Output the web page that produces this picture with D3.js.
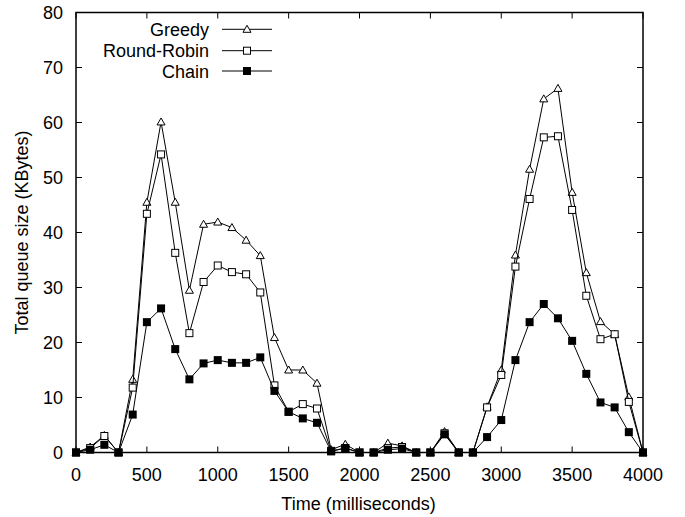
<!DOCTYPE html>
<html>
<head>
<meta charset="utf-8">
<script src="https://cdn.jsdelivr.net/npm/d3@7"></script>
<style>
  body { margin: 0; background: #fff; }
  text { font-family: "Liberation Sans", Arial, sans-serif; font-size: 18px; fill: #000; }
</style>
</head>
<body>
<div id="chart"></div>
<script>
// time axis (ms), one sample every 100 ms
const times = [0, 100, 200, 300, 400, 500, 600, 700, 800, 900,
  1000, 1100, 1200, 1300, 1400, 1500, 1600, 1700, 1800, 1900,
  2000, 2100, 2200, 2300, 2400, 2500, 2600, 2700, 2800, 2900,
  3000, 3100, 3200, 3300, 3400, 3500, 3600, 3700, 3800, 3900, 4000]

// queue sizes in KBytes
const greedy = [0, 1.0, 3.1, 0, 13.3, 45.5, 60.1, 45.5, 29.5, 41.5,
  41.9, 40.9, 38.6, 35.8, 20.9, 15.0, 15.0, 12.6, 0.5, 1.5,
  0, 0, 1.7, 1.2, 0, 0, 3.8, 0, 0, 8.3,
  15.0, 35.9, 51.5, 64.3, 66.2, 47.3, 32.7, 23.8, 21.5, 10.1, 0]

const roundRobin = [0, 0.8, 3.0, 0, 11.8, 43.4, 54.2, 36.3, 21.7, 31.0,
  34.0, 32.8, 32.4, 29.1, 12.2, 7.4, 8.8, 8.0, 0.3, 0.8,
  0, 0, 0.8, 1.0, 0, 0, 3.5, 0, 0, 8.2,
  14.1, 33.8, 46.1, 57.3, 57.5, 44.1, 28.5, 20.6, 21.5, 9.2, 0]

const chain = [0, 0.5, 1.4, 0, 6.9, 23.7, 26.2, 18.8, 13.3, 16.2,
  16.8, 16.3, 16.3, 17.3, 11.2, 7.4, 6.2, 5.4, 0.2, 0.8,
  0, 0, 0.5, 0.7, 0, 0, 3.3, 0, 0, 2.8,
  5.9, 16.8, 23.7, 27.0, 24.4, 20.3, 14.3, 9.1, 8.2, 3.7, 0]

const seriesNames = ["Greedy", "Round-Robin", "Chain"]
const seriesMarks = ["triangle", "openSquare", "filledSquare"]
const xTicks = [0, 500, 1000, 1500, 2000, 2500, 3000, 3500, 4000]
const yTicks = [0, 10, 20, 30, 40, 50, 60, 70, 80]

const W = 685, H = 517
const plot = { left: 76, right: 643, top: 12.5, bottom: 452.5 }

const svg = d3.select("#chart").append("svg")
  .attr("width", W).attr("height", H)

const x = d3.scaleLinear().domain([0, 4000]).range([plot.left, plot.right])
const y = d3.scaleLinear().domain([0, 80]).range([plot.bottom, plot.top])

//ticks inside the frame, mirrored on top and right (gnuplot style)
const tickLen = 6
const ticksG = svg.append("g").attr("stroke", "#000").attr("stroke-width", 1)
xTicks.forEach(t => {
  ticksG.append("line").attr("x1", x(t)).attr("x2", x(t))
    .attr("y1", plot.bottom).attr("y2", plot.bottom - tickLen)
  ticksG.append("line").attr("x1", x(t)).attr("x2", x(t))
    .attr("y1", plot.top).attr("y2", plot.top + tickLen)
})
yTicks.forEach(t => {
  ticksG.append("line").attr("x1", plot.left).attr("x2", plot.left + tickLen)
    .attr("y1", y(t)).attr("y2", y(t))
  ticksG.append("line").attr("x1", plot.right).attr("x2", plot.right - tickLen)
    .attr("y1", y(t)).attr("y2", y(t))
})

//tick labels
svg.append("g").selectAll("text").data(xTicks).join("text")
  .attr("x", d => x(d)).attr("y", 481)
  .attr("text-anchor", "middle")
  .text(d => d)
svg.append("g").selectAll("text").data(yTicks).join("text")
  .attr("x", 63).attr("y", d => y(d) + 6.5)
  .attr("text-anchor", "end")
  .text(d => d)

//axis titles
svg.append("text").attr("x", (plot.left + plot.right) / 2 - 1).attr("y", 510)
  .attr("text-anchor", "middle").text("Time (milliseconds)")
svg.append("text")
  .attr("transform", "translate(28," + ((plot.top + plot.bottom) / 2) + ") rotate(-90)")
  .attr("text-anchor", "middle").text("Total queue size (KBytes)")

//markers
function drawMark(g, kind, cx, cy) {
  if (kind === "triangle") {
    const s = 4
    g.append("path")
      .attr("d", "M" + cx + "," + (cy - s) + "L" + (cx + s) + "," + (cy + s * 0.75) + "L" + (cx - s) + "," + (cy + s * 0.75) + "Z")
      .attr("fill", "#fff").attr("stroke", "#000").attr("stroke-width", 1)
  } else if (kind === "openSquare") {
    g.append("rect").attr("x", cx - 3.5).attr("y", cy - 3.5)
      .attr("width", 7).attr("height", 7)
      .attr("fill", "#fff").attr("stroke", "#000").attr("stroke-width", 1)
  } else {
    g.append("rect").attr("x", cx - 4).attr("y", cy - 4)
      .attr("width", 8).attr("height", 8)
      .attr("fill", "#000")
  }
}

const line = d3.line().x(d => x(d[0])).y(d => y(d[1]))
const allSeries = [greedy, roundRobin, chain]

allSeries.forEach((vals, i) => {
  const pts = times.map((t, j) => [t, vals[j]])
  const g = svg.append("g")
  g.append("path").datum(pts).attr("d", line)
    .attr("fill", "none").attr("stroke", "#000").attr("stroke-width", 1)
  pts.forEach(p => drawMark(g, seriesMarks[i], x(p[0]), y(p[1])))
})

//legend
const legendRows = [29.3, 50.7, 71]
seriesNames.forEach((name, i) => {
  const ly = legendRows[i]
  svg.append("text").attr("x", 209).attr("y", ly + 6.5)
    .attr("text-anchor", "end").text(name)
  svg.append("line").attr("x1", 222).attr("x2", 272)
    .attr("y1", ly).attr("y2", ly)
    .attr("stroke", "#000").attr("stroke-width", 1)
  drawMark(svg.append("g"), seriesMarks[i], 247, ly)
})

//frame on top
svg.append("rect")
  .attr("x", plot.left).attr("y", plot.top)
  .attr("width", plot.right - plot.left).attr("height", plot.bottom - plot.top)
  .attr("fill", "none").attr("stroke", "#000").attr("stroke-width", 1.5)
</script>
</body>
</html>
